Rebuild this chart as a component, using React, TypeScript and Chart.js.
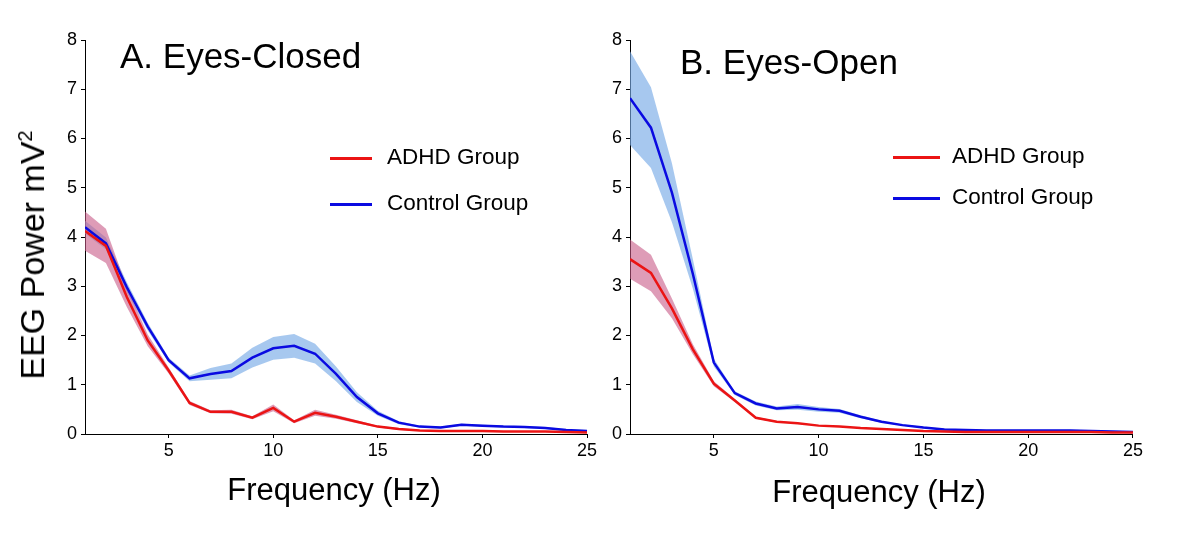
import React, { useEffect, useRef } from "react";
import { Chart, registerables } from "chart.js";
Chart.register(...registerables);

const freq = [1, 2, 3, 4, 5, 6, 7, 8, 9, 10, 11, 12, 13, 14, 15, 16, 17, 18, 19, 20, 21, 22, 23, 24, 25];
const xTicks = [5, 10, 15, 20, 25];

const closedAdhd = [4.12, 3.82, 2.78, 1.9, 1.29, 0.63, 0.45, 0.45, 0.33, 0.53, 0.25, 0.43, 0.35, 0.25, 0.15, 0.1, 0.07, 0.06, 0.06, 0.06, 0.05, 0.05, 0.05, 0.04, 0.03];
const closedAdhdSem = [0.4, 0.35, 0.2, 0.12, 0.06, 0.04, 0.03, 0.04, 0.03, 0.07, 0.03, 0.06, 0.04, 0.03, 0.02, 0.02, 0.01, 0.01, 0.01, 0.01, 0.01, 0.01, 0.01, 0.01, 0.01];
const closedCtrl = [4.2, 3.87, 2.98, 2.18, 1.5, 1.13, 1.22, 1.28, 1.55, 1.74, 1.79, 1.63, 1.22, 0.75, 0.42, 0.23, 0.15, 0.13, 0.19, 0.17, 0.15, 0.14, 0.12, 0.08, 0.06];
const closedCtrlSem = [0.13, 0.12, 0.1, 0.08, 0.05, 0.06, 0.12, 0.15, 0.2, 0.23, 0.24, 0.2, 0.15, 0.1, 0.05, 0.03, 0.02, 0.02, 0.02, 0.02, 0.02, 0.02, 0.02, 0.02, 0.02];

const openAdhd = [3.55, 3.27, 2.55, 1.72, 1.02, 0.68, 0.33, 0.25, 0.22, 0.17, 0.15, 0.12, 0.1, 0.08, 0.06, 0.05, 0.04, 0.04, 0.04, 0.04, 0.04, 0.04, 0.04, 0.03, 0.03];
const openAdhdSem = [0.4, 0.37, 0.2, 0.1, 0.05, 0.03, 0.02, 0.015, 0.01, 0.01, 0.01, 0.01, 0.01, 0.01, 0.01, 0.01, 0.01, 0.01, 0.01, 0.01, 0.01, 0.01, 0.01, 0.01, 0.01];
const openCtrl = [6.82, 6.22, 4.9, 3.25, 1.45, 0.83, 0.62, 0.52, 0.55, 0.5, 0.47, 0.35, 0.25, 0.18, 0.13, 0.09, 0.08, 0.07, 0.07, 0.07, 0.07, 0.07, 0.06, 0.05, 0.04];
const openCtrlSem = [0.95, 0.82, 0.6, 0.3, 0.08, 0.04, 0.04, 0.04, 0.06, 0.05, 0.04, 0.03, 0.02, 0.015, 0.015, 0.015, 0.015, 0.015, 0.015, 0.015, 0.015, 0.015, 0.015, 0.015, 0.015];

const RED = "rgb(235,20,20)";
const BLUE = "rgb(10,10,225)";
const RED_BAND = "rgba(200,90,135,0.6)";
const BLUE_BAND = "rgba(120,170,230,0.65)";
const FONT = "'Liberation Sans', Arial, sans-serif";

function pts(ys: number[], sem?: number[], sign = 0) {
  return freq.map((x, i) => ({ x, y: ys[i] + (sem ? sign * sem[i] : 0) }));
}

function Panel(props: { adhd: number[]; adhdSem: number[]; ctrl: number[]; ctrlSem: number[]; padRight: number }) {
  const ref = useRef<HTMLCanvasElement>(null);
  useEffect(() => {
    const band = (data: any, fill: any, color: string, order: number) => ({
      data, fill, order, backgroundColor: color, borderWidth: 0, pointRadius: 0, borderColor: "transparent",
    });
    const chart = new Chart(ref.current!, {
      type: "line",
      data: {
        datasets: [
          band(pts(props.ctrl, props.ctrlSem, 1), "+1", BLUE_BAND, 5),
          band(pts(props.ctrl, props.ctrlSem, -1), false, BLUE_BAND, 4),
          band(pts(props.adhd, props.adhdSem, 1), "+1", RED_BAND, 3),
          band(pts(props.adhd, props.adhdSem, -1), false, RED_BAND, 2),
          { data: pts(props.ctrl), order: 1, borderColor: BLUE, borderWidth: 2.5, pointRadius: 0, fill: false, tension: 0 },
          { data: pts(props.adhd), order: 0, borderColor: RED, borderWidth: 2.5, pointRadius: 0, fill: false, tension: 0 },
        ] as any,
      },
      options: {
        responsive: false,
        animation: false,
        devicePixelRatio: 1,
        layout: { padding: { top: 40, left: 0, right: props.padRight, bottom: 0 } },
        plugins: {
          legend: { display: false },
          tooltip: { enabled: false },
          filler: { drawTime: "beforeDatasetsDraw" },
        } as any,
        scales: {
          x: {
            type: "linear",
            min: 1,
            max: 25,
            afterBuildTicks: (axis: any) => {
              axis.ticks = xTicks.map((v) => ({ value: v }));
            },
            afterFit: (axis: any) => {
              axis.height = 102;
            },
            ticks: { color: "#000", font: { family: FONT, size: 18 }, padding: 2, maxRotation: 0, autoSkip: false },
            grid: { display: true, drawOnChartArea: false, drawTicks: true, tickLength: 4, color: "#000" },
            border: { display: true, color: "#000", width: 1 },
          },
          y: {
            type: "linear",
            min: 0,
            max: 8,
            ticks: { stepSize: 1, color: "#000", font: { family: FONT, size: 18 }, padding: 4 },
            afterFit: (axis: any) => {
              axis.width = 85;
            },
            grid: { display: true, drawOnChartArea: false, drawTicks: true, tickLength: 4, color: "#000" },
            border: { display: true, color: "#000", width: 1 },
          },
        },
      },
    });
    return () => chart.destroy();
  }, []);
  return <canvas ref={ref} width={600} height={536} style={{ display: "block" }} />;
}

function Legend(props: { left: number; top1: number; top2: number; textLeft: number; lineW: number }) {
  const item = (top: number, color: string, label: string) => (
    <>
      <div style={{ position: "absolute", left: props.left, top: top - 1.5, width: props.lineW, height: 3, background: color }} />
      <div style={{ position: "absolute", left: props.textLeft, top: top - 14, fontFamily: FONT, fontSize: 22.5, lineHeight: "26px", color: "#000", whiteSpace: "nowrap" }}>
        {label}
      </div>
    </>
  );
  return (
    <>
      {item(props.top1, RED, "ADHD Group")}
      {item(props.top2, BLUE, "Control Group")}
    </>
  );
}

export default function App() {
  const textBase: React.CSSProperties = { position: "absolute", fontFamily: FONT, color: "#000", whiteSpace: "nowrap" };
  return (
    <div style={{ position: "fixed", left: 0, top: 0, width: 1200, height: 536, background: "#fff", overflow: "hidden" }}>
      <div style={{ position: "absolute", left: 0, top: 0 }}>
        <Panel adhd={closedAdhd} adhdSem={closedAdhdSem} ctrl={closedCtrl} ctrlSem={closedCtrlSem} padRight={13} />
      </div>
      <div style={{ position: "absolute", left: 545, top: 0 }}>
        <Panel adhd={openAdhd} adhdSem={openAdhdSem} ctrl={openCtrl} ctrlSem={openCtrlSem} padRight={10} />
      </div>
      <div style={{ ...textBase, left: 120, top: 36, fontSize: 35, lineHeight: "40px" }}>A. Eyes-Closed</div>
      <div style={{ ...textBase, left: 680, top: 42, fontSize: 35, lineHeight: "40px" }}>B. Eyes-Open</div>
      <div
        style={{
          ...textBase,
          left: 32,
          top: 255,
          fontSize: 34,
          lineHeight: "40px",
          transform: "translate(-50%, -50%) rotate(-90deg)",
        }}
      >
        EEG Power mV<sup style={{ fontSize: 20, verticalAlign: "super", lineHeight: 0 }}>2</sup>
      </div>
      <div style={{ ...textBase, left: 334, top: 490, fontSize: 31, lineHeight: "36px", transform: "translate(-50%, -50%)" }}>Frequency (Hz)</div>
      <div style={{ ...textBase, left: 879, top: 492, fontSize: 31, lineHeight: "36px", transform: "translate(-50%, -50%)" }}>Frequency (Hz)</div>
      <Legend left={330} lineW={42} textLeft={387} top1={158} top2={204} />
      <Legend left={893} lineW={47} textLeft={952} top1={157} top2={198} />
    </div>
  );
}
